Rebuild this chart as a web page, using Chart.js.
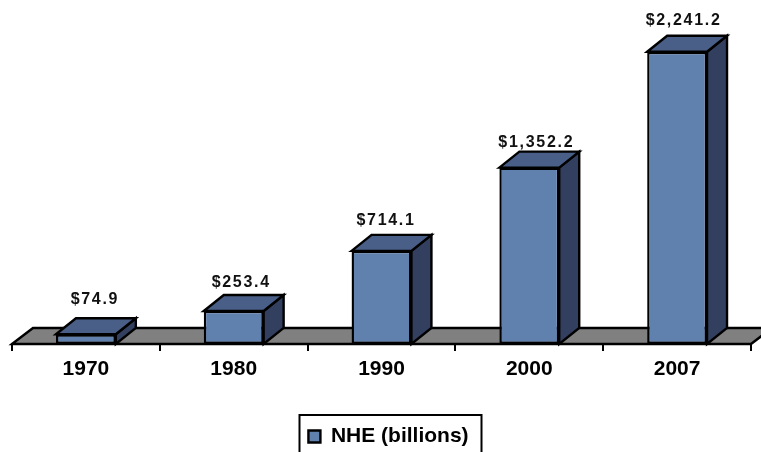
<!DOCTYPE html>
<html>
<head>
<meta charset="utf-8">
<style>
  html, body { margin: 0; padding: 0; background: #fff; overflow: hidden; }
  canvas { display: block; }
</style>
<script src="https://cdn.jsdelivr.net/npm/chart.js@4"></script>
</head>
<body>
<canvas id="myChart" width="761" height="452"></canvas>
<script>
const years = ['1970', '1980', '1990', '2000', '2007'];
const nhe = [74.9, 253.4, 714.1, 1352.2, 2241.2];
const valueLabels = ['$74.9', '$253.4', '$714.1', '$1,352.2', '$2,241.2'];

const FRONT = '#6080AE';
const TOP = '#4A5F87';
const SIDE = '#323F5E';
const FLOOR = '#808080';
const DEPTH_X = 20;
const DEPTH_Y = 16;
// the original placed its labels a little unevenly over the bars
const labelShiftX = [9, 7.5, 4.5, 7, 6.5];
const labelShiftY = [-35, -28, -30, -25, -31];

function poly(ctx, pts, fill) {
    ctx.beginPath();
    ctx.moveTo(pts[0][0], pts[0][1]);
    pts.slice(1).forEach(p => ctx.lineTo(p[0], p[1]));
    ctx.closePath();
    ctx.fillStyle = fill;
    ctx.fill();
    ctx.stroke();
}

// fake 3D: floor, then the top and side of every bar, behind the real bars
const box3d = {
    id: 'box3d',
    afterLayout(chart) {
        // legend sits right of centre and a bit lower in the original
        const lg = chart.legend;
        lg.left += 7;
        lg.right += 7;
        lg.top += 5;
        lg.bottom += 5;
    },
    beforeDatasetsDraw(chart) {
        const ctx = chart.ctx;
        const area = chart.chartArea;
        ctx.save();
        ctx.strokeStyle = '#000';
        ctx.lineWidth = 2.4;
        ctx.lineJoin = 'miter';
        poly(ctx, [
            [area.left, area.bottom],
            [area.left + DEPTH_X + 1, area.bottom - DEPTH_Y],
            [area.right + DEPTH_X + 1, area.bottom - DEPTH_Y],
            [area.right, area.bottom]
        ], FLOOR);
        chart.getDatasetMeta(0).data.forEach(bar => {
            const l = bar.x - bar.width / 2;
            const r = bar.x + bar.width / 2;
            poly(ctx, [[r, bar.y], [r + DEPTH_X, bar.y - DEPTH_Y], [r + DEPTH_X, bar.base - DEPTH_Y], [r, bar.base]], SIDE);
            poly(ctx, [[l, bar.y], [l + DEPTH_X, bar.y - DEPTH_Y], [r + DEPTH_X, bar.y - DEPTH_Y], [r, bar.y]], TOP);
        });
        ctx.restore();
    },
    afterDraw(chart) {
        const ctx = chart.ctx;
        ctx.save();
        // value labels, widely tracked like the original
        ctx.font = 'bold 16px "Liberation Sans"';
        ctx.letterSpacing = '1.7px';
        ctx.fillStyle = '#111';
        ctx.textAlign = 'center';
        ctx.textBaseline = 'middle';
        chart.getDatasetMeta(0).data.forEach((bar, i) => {
            ctx.fillText(valueLabels[i], bar.x + labelShiftX[i], bar.y + labelShiftY[i]);
        });
        ctx.letterSpacing = '0px';
        // legend frame runs off the bottom of the picture
        const lg = chart.legend;
        ctx.strokeStyle = '#000';
        ctx.lineWidth = 2;
        ctx.strokeRect(lg.left + lg.width / 2 - 89, 415, 182, 60);
        ctx.restore();
    }
};

const ctx = document.getElementById('myChart');
const myChart = new Chart(ctx, {
    type: 'bar',
    data: {
        labels: years,
        datasets: [{
            label: 'NHE (billions)',
            data: nhe,
            backgroundColor: FRONT,
            borderColor: '#000',
            borderWidth: 2.4,
            borderSkipped: false,
            barPercentage: 0.405,
            categoryPercentage: 1
        }]
    },
    options: {
        responsive: false,
        animation: false,
        layout: { padding: { left: 12, right: 10, top: 18, bottom: 0 } },
        plugins: {
            tooltip: { enabled: false },
            legend: {
                position: 'bottom',
                labels: {
                    color: '#000',
                    boxWidth: 12,
                    boxHeight: 12,
                    padding: 12,
                    font: { family: '"Liberation Sans"', size: 21, weight: 'bold' }
                }
            }
        },
        scales: {
            x: {
                afterFit(scale) { scale.height = 65; },
                border: { color: '#000', width: 2 },
                grid: { drawOnChartArea: false, color: '#000', lineWidth: 2, tickLength: 7 },
                ticks: {
                    color: '#000',
                    maxRotation: 0,
                    padding: 6,
                    font: { family: '"Liberation Sans"', size: 21, weight: 'bold' }
                }
            },
            y: { display: false, min: 0, max: 2500 }
        }
    },
    plugins: [box3d]
});
</script>
</body>
</html>
